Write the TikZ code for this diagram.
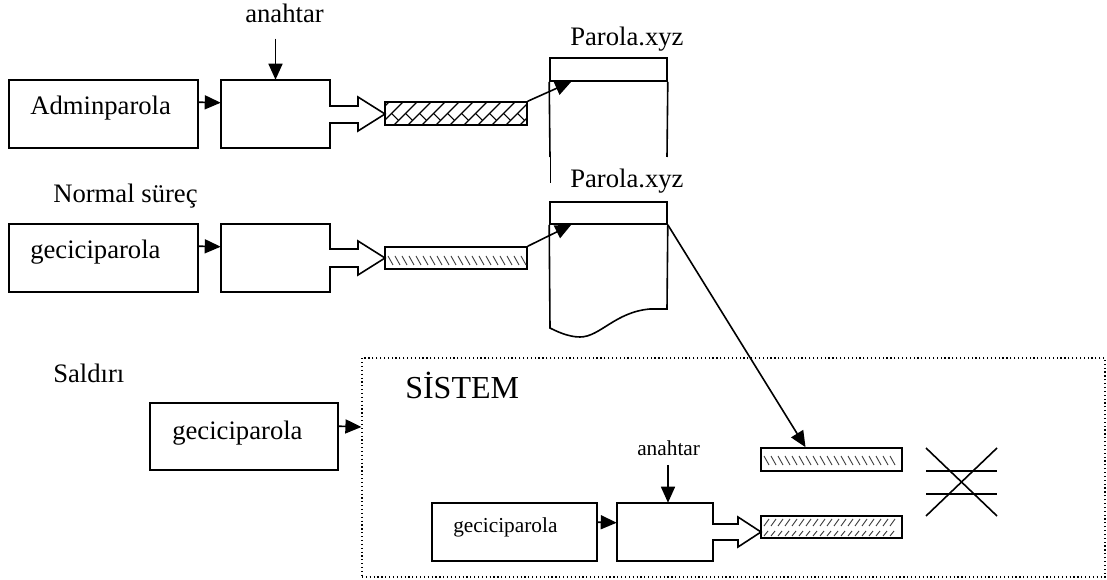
\documentclass[tikz,border=0pt]{standalone}
\usepackage{fontspec}
\setmainfont{Liberation Serif}
\usetikzlibrary{arrows.meta,fit}
\begin{document}
\begin{tikzpicture}[x=0.75pt,y=-0.75pt,
  box/.style={draw, line width=1.2pt, inner sep=0pt},
  bar/.style={draw, line width=1.2pt, inner sep=0pt},
  hole/.style={inner sep=0pt},
  lbl/.style={anchor=base west, inner sep=0pt, font=\fontsize{20}{24}\selectfont},
  small/.style={anchor=base west, inner sep=0pt, font=\fontsize{16}{19}\selectfont},
  tip/.style={-{Triangle[length=12pt,width=10.5pt]}, line width=1.2pt},
  procline/.style={draw, line width=1.2pt, line join=miter},
  hatch/.style={line width=0.7pt, black!75}]
\useasboundingbox (0,0) rectangle (1107,580);

% ---------- upper row: administrator password ----------
\node[lbl] (keyA) at (245,23) {anahtar};
\node[box, fit={(9,80) (198,148)}] (admin) {};
\node[lbl] at (30,115) {Adminparola};
\node[hole, fit={(221,80) (330,148)}] (encA) {};
\path[procline] (221,80) -- (330,80) -- (330,106) -- (358,106) -- (358,97) -- (385,114)
  -- (358,131) -- (358,123) -- (330,123) -- (330,148) -- (221,148) -- cycle;
\node[bar, fit={(385,102) (527,125)}] (barA) {};
\begin{scope}
  \clip (385,102) rectangle (527,125);
  \foreach \x in {366,380,...,530} {
    \draw[line width=0.8pt] (\x,125) -- (\x+23,102);
    \draw[line width=0.8pt] (\x+11.5,113.5) -- (\x+18.5,120.5);
  }
\end{scope}
\draw[line width=1.2pt] (385,102) rectangle (527,125);
\draw[tip] (keyA.south -| encA.north) ++(0,15) -- (encA.north);
\draw[tip] ([shift={(0,23)}]admin.north east) -- ([shift={(0,23)}]encA.north west);

% password file (upper)
\node[lbl] (titleA) at (570,46) {Parola.xyz};
\node[box, fit={(550,58) (667,81)}] (headA) {};
\draw[line width=1.2pt] (headA.south east) -- (667,157);
\draw[line width=1.2pt] (headA.south west) -- (550,157);
\draw[line width=0.6pt] (550,157) -- (550,183);
\draw[tip] (barA.north east) -- ([xshift=16.5pt]headA.south west);

% ---------- middle row: normal process ----------
\node[lbl] at (53,203) {Normal süreç};
\node[box, fit={(9,224) (198,292)}] (tempB) {};
\node[lbl] at (30,259) {geciciparola};
\node[hole, fit={(221,224) (330,292)}] (encB) {};
\path[procline] (221,224) -- (330,224) -- (330,249) -- (358,249) -- (358,241) -- (385,258)
  -- (358,275) -- (358,267) -- (330,267) -- (330,292) -- (221,292) -- cycle;
\node[bar, fit={(385,247) (527,269)}] (barB) {};
\foreach \x in {388,395,...,521} \draw[hatch] (\x,256) -- (\x+5,265);
\draw[tip] ([shift={(0,23)}]tempB.north east) -- ([shift={(0,23)}]encB.north west);

% password file (middle)
\node[lbl] (titleB) at (570,188) {Parola.xyz};
\node[box, fit={(550,202) (667,224)}] (headB) {};
\draw[line width=1.2pt] (headB.south east) -- (667,309) -- (650,309)
  .. controls (615,312) and (600,337) .. (580,337)
  .. controls (568,337) and (556,331) .. (550,328) -- (headB.south west);
\draw[tip] (barB.north east) -- ([xshift=16.5pt]headB.south west);

% ---------- lower row: attack ----------
\node[lbl] at (53,383) {Saldırı};
\node[box, fit={(150,403) (338,470)}] (tempC) {};
\node[lbl] at (172,440) {geciciparola};
\node[draw, dotted, line width=0.9pt, inner sep=0pt, fit={(362,358) (1105,577)}] (sys) {};
\node[lbl, font=\fontsize{24}{28}\selectfont] at (405,399) {SİSTEM};
\draw[tip] ([shift={(0,24)}]tempC.north east) -- (sys.west |- 0,427);

% inside the system
\node[small] (keyC) at (637,456) {anahtar};
\node[box, fit={(432,503) (597,561)}] (tempD) {};
\node[small] at (453,533) {geciciparola};
\node[hole, fit={(617,503) (713,561)}] (encD) {};
\path[procline] (617,503) -- (713,503) -- (713,524) -- (738,524) -- (738,517) -- (761,532)
  -- (738,547) -- (738,540) -- (713,540) -- (713,561) -- (617,561) -- cycle;
\draw[tip] ([shift={(0,20)}]tempD.north east) -- ([shift={(0,20)}]encD.north west);
\draw[tip] (668,465) -- (encD.north -| 668,0);

\node[bar, fit={(761,448) (902,471)}] (barC) {};
\foreach \x in {764,771,...,896} \draw[hatch] (\x,456) -- (\x+5,465);
\node[bar, fit={(761,516) (902,538)}] (barD) {};
\foreach \x in {764,771,...,896} {
  \draw[hatch] (\x,526) -- (\x+5,519);
  \draw[hatch] (\x,536) -- (\x+4,531);
}
\draw[tip] (headB.south east) -- ([xshift=34pt]barC.north west);

% crossed-out equality
\draw[line width=1.2pt] (926,448) -- (997,516);
\draw[line width=1.2pt] (997,448) -- (926,516);
\draw[line width=1.2pt] (926,471) -- (997,471);
\draw[line width=1.2pt] (926,494) -- (997,494);
\end{tikzpicture}
\end{document}
